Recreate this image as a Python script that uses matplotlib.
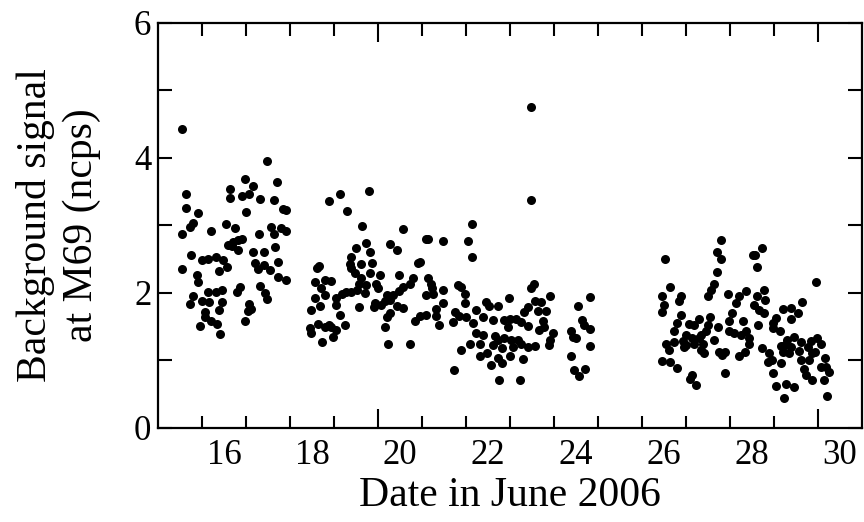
import numpy as np
import matplotlib
matplotlib.use("Agg")
import matplotlib.pyplot as plt

# Fondo medido por noche (dia de junio 2006, ncps)
dia_16 = [15.05, 16.98, 16.47, 17.21, 16.66, 16.13, 15.13, 16.40, 16.56, 16.13,
          16.81, 17.14, 15.13, 15.40, 16.49, 17.33, 17.40, 15.30, 15.22, 15.05,
          15.71, 16.05, 16.24, 17.06, 17.14, 17.30, 17.40, 16.80, 16.09, 16.21,
          16.32, 16.17, 16.32, 16.40, 17.15, 15.24, 16.65, 16.90, 15.49, 15.64,
          15.81, 15.98, 16.07, 15.89, 15.05, 16.70, 16.77, 16.90, 17.04, 17.23,
          17.23, 17.40, 15.39, 15.40, 16.36, 16.30, 16.81, 16.92, 16.98, 15.30,
          15.22, 15.49, 15.66, 15.64, 15.81, 15.96, 15.94, 15.56, 15.56, 15.89,
          16.57, 16.61, 16.55, 15.71, 15.83, 15.46, 16.47, 15.90]
fondo_16 = [4.43, 3.96, 3.69, 3.64, 3.58, 3.54, 3.47, 3.44, 3.46, 3.41,
            3.39, 3.38, 3.26, 3.18, 3.20, 3.25, 3.23, 3.03, 2.98, 2.88,
            2.92, 3.02, 2.96, 2.98, 2.88, 2.97, 2.92, 2.88, 2.71, 2.76,
            2.79, 2.69, 2.64, 2.80, 2.68, 2.57, 2.60, 2.60, 2.49, 2.51,
            2.53, 2.49, 2.38, 2.32, 2.36, 2.44, 2.36, 2.41, 2.34, 2.46,
            2.23, 2.19, 2.26, 2.17, 2.09, 2.02, 2.11, 2.00, 1.91, 1.95,
            1.84, 1.88, 1.86, 2.01, 2.02, 2.04, 1.86, 1.72, 1.64, 1.75,
            1.84, 1.77, 1.73, 1.58, 1.54, 1.51, 1.58, 1.39]

dia_19 = [18.39, 18.63, 19.29, 18.80, 19.14, 20.07, 21.63, 20.58, 20.63, 20.98,
          21.54, 21.64, 19.23, 19.78, 19.92, 18.99, 19.31, 18.89, 18.87, 19.12,
          19.37, 18.89, 18.97, 19.31, 19.12, 19.07, 19.23, 19.20, 19.55, 19.46,
          19.50, 19.97, 20.29, 20.41, 20.46, 20.22, 20.07, 19.98, 19.84, 19.70,
          19.65, 19.57, 19.42, 19.40, 19.76, 19.92, 20.07, 19.76, 19.70, 19.65,
          19.73, 20.23, 20.33, 20.45, 20.58, 20.63, 20.70, 20.73, 20.60, 20.75,
          20.98, 20.98, 20.82, 20.82, 20.88, 21.32, 21.39, 21.47, 21.47, 21.24,
          21.20, 21.35, 21.51, 21.66, 21.73, 21.58, 21.39, 21.22, 21.73,
          18.10, 18.16, 18.06, 18.29, 18.44, 18.21, 18.29, 18.06, 18.17, 17.98,
          18.55, 18.67, 18.78, 18.89, 19.01, 18.55, 18.64, 19.07, 18.74, 17.95,
          17.98, 18.14, 18.29, 18.44, 18.55, 18.48, 18.23, 18.39]
fondo_19 = [3.36, 3.47, 3.51, 3.21, 2.99, 2.95, 3.02, 2.80, 2.80, 2.77,
            2.77, 2.54, 2.74, 2.72, 2.64, 2.67, 2.60, 2.53, 2.43, 2.43,
            2.44, 2.37, 2.29, 2.30, 2.22, 2.14, 2.12, 2.00, 2.27, 2.14,
            2.07, 2.26, 2.22, 2.44, 2.46, 2.14, 2.09, 2.03, 1.97, 1.97,
            1.88, 1.82, 1.85, 1.79, 1.89, 1.80, 1.78, 1.70, 1.64, 1.50,
            1.25, 1.25, 1.59, 1.66, 1.68, 2.22, 2.13, 2.07, 1.97, 1.98,
            2.04, 1.85, 1.76, 1.66, 1.53, 2.12, 2.09, 1.98, 1.85, 1.72,
            1.57, 1.66, 1.65, 1.55, 1.40, 1.25, 1.16, 0.86, 1.75,
            2.37, 2.40, 2.17, 2.19, 2.18, 2.07, 1.97, 1.92, 1.81, 1.75,
            1.92, 1.99, 2.02, 2.02, 2.04, 1.82, 1.67, 1.79, 1.53, 1.48,
            1.40, 1.54, 1.50, 1.50, 1.45, 1.35, 1.27, 1.53]

dia_23 = [22.97, 22.97, 23.04, 22.98, 23.40, 22.47, 23.08, 23.21, 21.96, 22.03,
          22.22, 22.90, 22.83, 23.13, 23.32, 21.88, 22.11, 22.37, 22.49, 22.64,
          22.75, 22.45, 22.90, 23.25, 23.28, 23.17, 23.47, 21.88, 21.81, 22.15,
          22.22, 22.37, 22.53, 22.68, 22.75, 22.11, 22.32, 22.56, 22.90, 23.07,
          23.40, 23.38, 21.81, 21.97, 22.07, 22.22, 22.32, 22.49, 22.79, 22.25,
          22.73,
          24.31, 24.04, 24.13, 24.19, 24.31, 23.89, 24.00, 23.93, 24.31, 23.89,
          23.96, 24.08, 24.21]
fondo_23 = [4.76, 3.38, 2.13, 2.07, 1.96, 1.93, 1.88, 1.86, 1.87, 1.80,
            1.80, 1.79, 1.72, 1.74, 1.74, 1.65, 1.60, 1.60, 1.62, 1.61,
            1.57, 1.50, 1.51, 1.58, 1.50, 1.45, 1.41, 1.38, 1.25, 1.36,
            1.30, 1.33, 1.30, 1.31, 1.24, 1.23, 1.19, 1.20, 1.20, 1.21,
            1.30, 1.23, 1.07, 1.11, 0.94, 1.03, 0.97, 1.07, 1.02, 0.71,
            0.71,
            1.94, 1.80, 1.60, 1.52, 1.46, 1.43, 1.33, 1.35, 1.21, 1.06,
            0.86, 0.77, 0.87]

dia_27 = [27.30, 27.22, 27.30, 26.03, 27.22, 26.14, 27.15, 27.07, 27.00, 27.47,
          27.88, 27.71, 27.64, 25.96, 26.40, 26.34, 26.01, 25.96, 26.40, 26.31,
          26.58, 26.68, 26.81, 27.06, 27.00, 27.55, 27.49, 27.81, 26.22, 27.24,
          26.96, 26.50, 26.65, 26.81, 26.84, 27.49, 27.60, 27.75, 27.88, 27.93,
          27.15, 26.06, 26.24, 26.43, 26.50, 26.69, 26.88, 26.12, 26.46, 26.84,
          26.92, 27.26, 27.40, 27.32, 27.71, 27.85, 27.93, 25.96, 26.14, 26.31,
          26.65, 26.59, 26.74, 27.40]
fondo_27 = [2.78, 2.61, 2.50, 2.50, 2.31, 2.09, 2.14, 2.05, 1.96, 1.99,
            2.03, 1.95, 1.85, 1.95, 1.95, 1.88, 1.82, 1.72, 1.68, 1.55,
            1.54, 1.52, 1.61, 1.65, 1.53, 1.70, 1.58, 1.58, 1.43, 1.49,
            1.43, 1.38, 1.33, 1.33, 1.38, 1.43, 1.40, 1.38, 1.43, 1.33,
            1.30, 1.25, 1.27, 1.29, 1.23, 1.25, 1.25, 1.16, 1.20, 1.16,
            1.11, 1.12, 1.12, 1.08, 1.06, 1.12, 1.25, 0.99, 0.98, 0.89,
            0.79, 0.73, 0.63, 0.82]

dia_29 = [28.23, 28.02, 28.08, 28.13, 29.45, 28.28, 28.11, 28.30, 28.05, 28.17,
          28.28, 29.14, 28.72, 28.89, 29.06, 28.89, 28.55, 28.49, 28.15, 28.49,
          28.64, 28.81, 28.96, 28.76, 28.66, 28.89, 29.11, 29.34, 29.49, 29.57,
          29.29, 28.23, 28.70, 28.85, 29.08, 29.11, 29.30, 29.38, 29.44, 28.39,
          28.38, 28.45, 28.66, 29.67, 29.57, 29.70, 29.76, 29.19, 29.23, 29.38,
          29.64, 28.49, 28.56, 28.79, 28.96, 28.73, 29.72]
fondo_29 = [2.66, 2.56, 2.57, 2.38, 2.16, 2.04, 1.96, 1.90, 1.82, 1.75,
            1.71, 1.87, 1.76, 1.78, 1.70, 1.62, 1.63, 1.55, 1.53, 1.48,
            1.43, 1.30, 1.35, 1.23, 1.22, 1.20, 1.28, 1.29, 1.33, 1.24,
            1.20, 1.19, 1.12, 1.11, 1.14, 1.01, 1.01, 1.11, 1.13, 1.11,
            0.98, 1.01, 0.96, 1.03, 0.91, 0.91, 0.83, 0.88, 0.79, 0.71,
            0.71, 0.81, 0.62, 0.65, 0.61, 0.44, 0.48]

dias_etiqueta = [16, 18, 20, 22, 24, 26, 28, 30]

x = np.concatenate([dia_16, dia_19, dia_23, dia_27, dia_29])
y = np.concatenate([fondo_16, fondo_19, fondo_23, fondo_27, fondo_29])

plt.rcParams['font.family'] = ['Liberation Serif', 'DejaVu Serif']

fig = plt.figure(figsize=(8.64, 5.22), dpi=100)
ax = fig.add_axes([0.1832, 0.1801, 0.8141, 0.7759])

ax.plot(x, y, 'o', color='black', ms=6.5, mec='none')

ax.set_xlim(14.5, 30.5)
ax.set_ylim(0, 6)

# marcas de dia (las largas en 19.5 y 29.5)
medios = np.arange(15.5, 30, 1.0)
ax.set_xticks([19.5, 29.5])
ax.set_xticks([m for m in medios if m not in (19.5, 29.5)], minor=True)
ax.tick_params(axis='x', which='major', direction='in', length=14, width=1.5,
               top=True, bottom=True, labelbottom=False)
ax.tick_params(axis='x', which='minor', direction='in', length=9, width=1.5,
               top=True, bottom=True)

ax.set_yticks([0, 2, 4, 6])
ax.set_yticks([1, 3, 5], minor=True)
ax.tick_params(axis='y', which='both', direction='in', length=10, width=1.5,
               left=True, right=True, labelsize=25, pad=5)

sec = ax.secondary_xaxis('bottom')
sec.set_xticks(dias_etiqueta)
sec.tick_params(length=0, labelsize=25, pad=8)
sec.spines['bottom'].set_visible(False)
sec.set_xlabel('Date in June 2006', fontsize=30, labelpad=3)

for s in ax.spines.values():
    s.set_linewidth(1.6)

ax.set_ylabel('Background signal\nat M69 (ncps)', fontsize=30, linespacing=1.25,
              labelpad=24)

fig.savefig('out.png', dpi=100)
